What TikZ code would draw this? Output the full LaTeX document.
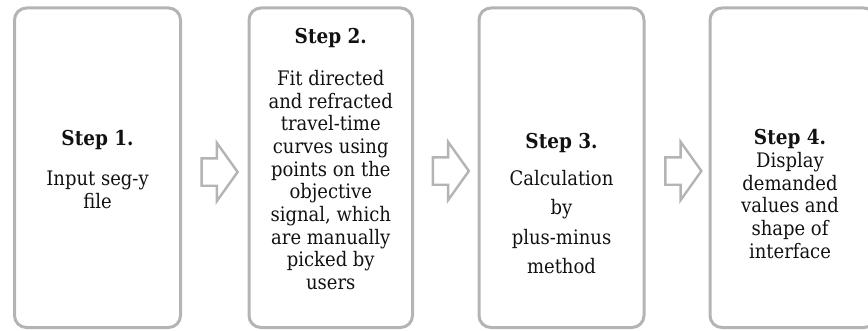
\documentclass[tikz,border=0pt]{standalone}
\usepackage{fontspec}
\setmainfont{DejaVu Serif Condensed}
\usetikzlibrary{shapes.arrows}
\definecolor{frame}{HTML}{B4B4B4}
\definecolor{ink}{HTML}{111111}
\tikzset{
  stepbox/.style={draw=frame, line width=3pt, rounded corners=12pt},
  heading/.style={font=\fontsize{20.5}{22}\selectfont\bfseries, text=ink, inner sep=0pt},
  body/.style={font=\fontsize{20}{22.7}\selectfont, text=ink, align=center, inner sep=0pt},
  flow/.style={single arrow, draw=frame, line width=2.4pt, fill=white,
    minimum height=36pt, minimum width=56pt, inner sep=0pt, inner ysep=12.5pt,
    single arrow head extend=15.5pt, single arrow tip angle=109}
}
\begin{document}
\begin{tikzpicture}[x=1pt,y=1pt]
\useasboundingbox (0,0) rectangle (868,330);

% the four step boxes
\draw[stepbox] (14.5,2.5) rectangle (180.5,322) node[pos=0.5] (b1) {};
\draw[stepbox] (249,2.5) rectangle (412.5,322) node[pos=0.5] (b2) {};
\draw[stepbox] (479,2.5) rectangle (644,322) node[pos=0.5] (b3) {};
\draw[stepbox] (710,2.5) rectangle (876,322) node[pos=0.5] (b4) {};

% box contents
\node[heading] (h1) at (97.5,190) {Step 1.};
\node[body] (t1) at (97.5,140) {Input seg-y\\file};

\node[heading] (h2) at (330.75,292) {Step 2.};
\node[body] (t2) at (330.75,150) {Fit directed\\and refracted\\travel-time\\curves using\\points on the\\objective\\signal, which\\are manually\\picked by\\users};

\node[heading] (h3) at (561.5,187) {Step 3.};
\node[body, font=\fontsize{20}{29.5}\selectfont] (t3) at (561.5,108) {Calculation\\by\\plus-minus\\method};

\node[heading] (h4) at (790,191) {Step 4.};
\node[body] (t4) at (790,124.5) {Display\\demanded\\values and\\shape of\\interface};

% hollow arrows between the boxes
\node[flow] (a1) at (214.75,158) {};
\node[flow] (a2) at (446,159) {};
\node[flow] (a3) at (678.5,159) {};
\end{tikzpicture}
\end{document}
